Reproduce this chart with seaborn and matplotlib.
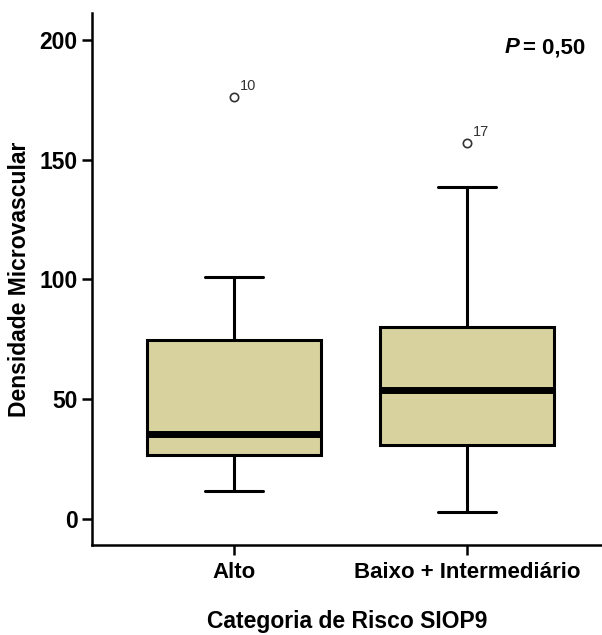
import matplotlib
matplotlib.use("Agg")
import matplotlib.pyplot as plt
import seaborn as sns
import pandas as pd

# Five-number summaries per risk category (Densidade Microvascular)
categories = ["Alto", "Baixo + Intermediário"]
whisker_low = [11.7, 2.9]
q1 = [26.7, 30.9]
median = [35.5, 53.9]
q3 = [74.7, 80.2]
whisker_high = [101.0, 138.6]
outlier_value = [176.2, 157.0]
outlier_case = ["10", "17"]

yticks = [0, 50, 100, 150, 200]

# Expand each summary into a small sample whose quartiles reproduce it
rows = []
for i, cat in enumerate(categories):
    sample = [whisker_low[i], q1[i], q1[i], median[i], median[i], median[i],
              q3[i], whisker_high[i], outlier_value[i]]
    rows += [(cat, v) for v in sample]
df = pd.DataFrame(rows, columns=["categoria", "densidade"])

sns.set_style("white")
plt.rcParams["font.family"] = ["Liberation Sans", "DejaVu Sans"]
plt.rcParams["text.color"] = "black"
plt.rcParams["axes.labelcolor"] = "black"
plt.rcParams["xtick.color"] = "black"
plt.rcParams["ytick.color"] = "black"

fig = plt.figure(figsize=(6.02, 6.35), dpi=100)
ax = fig.add_axes([0.1528, 0.1417, 0.8472, 0.8378])

fill = "#d7d29e"
edge_lw = 2.2
sns.boxplot(
    data=df, x="categoria", y="densidade", order=categories,
    color=fill, width=0.75, whis=1.5, saturation=1,
    linecolor="black", linewidth=edge_lw,
    boxprops=dict(facecolor=fill, edgecolor="black", linewidth=edge_lw),
    medianprops=dict(color="black", linewidth=5.0, solid_capstyle="butt"),
    whiskerprops=dict(color="black", linewidth=edge_lw),
    capprops=dict(color="black", linewidth=edge_lw),
    flierprops=dict(marker="o", markersize=6, markerfacecolor="white",
                    markeredgecolor="#333333", markeredgewidth=1.2),
    capwidths=0.25,
    ax=ax,
)

# Case numbers beside the outliers
for i, (v, lab) in enumerate(zip(outlier_value, outlier_case)):
    ax.annotate(lab, (i, v), xytext=(4, 3), textcoords="offset points",
                fontsize=10.5, color="#333333", ha="left", va="bottom")

ax.set_xlim(-0.61, 1.58)
ax.set_ylim(-10.9, 211.3)
ax.set_yticks(yticks)
ax.set_yticklabels([str(t) for t in yticks])

for side in ("top", "right"):
    ax.spines[side].set_visible(False)
for side in ("left", "bottom"):
    ax.spines[side].set_linewidth(1.8)
    ax.spines[side].set_color("black")

ax.tick_params(axis="both", which="major", direction="out", length=7.5,
               width=1.8, color="black", labelcolor="black", labelsize=16.5,
               pad=3, bottom=True, left=True)
ax.tick_params(axis="x", labelsize=16, pad=5)
for lab in ax.get_xticklabels() + ax.get_yticklabels():
    lab.set_fontweight("bold")

ax.set_xlabel("Categoria de Risco SIOP9", fontsize=16.5, fontweight="bold",
              labelpad=19)
ax.set_ylabel("Densidade Microvascular", fontsize=16.5, fontweight="bold",
              labelpad=6)

# p-value annotation: italic P followed by the value
pval = ax.text(0.968, 0.935, "= 0,50", transform=ax.transAxes, fontsize=16,
               fontweight="bold", ha="right", va="center")
ax.annotate("P", xy=(0, 0.5), xycoords=pval, xytext=(-3, 0),
            textcoords="offset points", fontsize=16, fontweight="bold",
            fontstyle="italic", ha="right", va="center")

fig.savefig("out.png", dpi=100)
